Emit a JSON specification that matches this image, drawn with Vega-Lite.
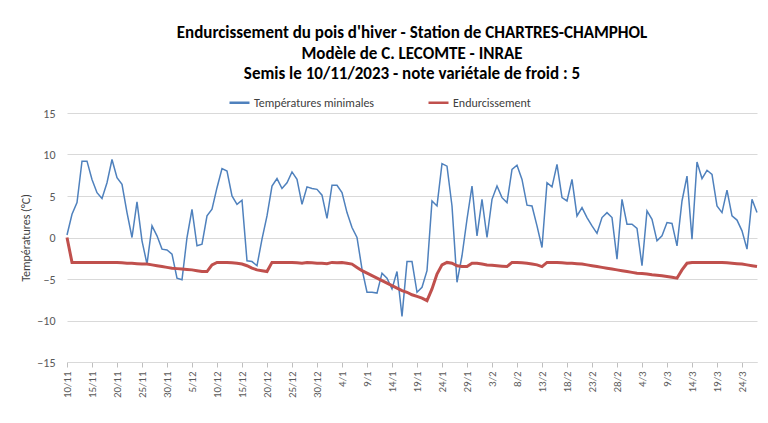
{
  "$schema": "https://vega.github.io/schema/vega-lite/v6.json",
  "width": 690,
  "height": 249,
  "autosize": {"type": "none"},
  "padding": {"left": 67, "top": 113, "right": 11, "bottom": 61},
  "background": "white",
  "config": {
    "font": "Carlito, Lato, sans-serif",
    "view": {"stroke": null}
  },
  "title": {
    "text": ["Endurcissement du pois d'hiver - Station de CHARTRES-CHAMPHOL", "Modèle de C. LECOMTE - INRAE", "Semis le 10/11/2023  - note variétale de froid : 5"],
    "fontSize": 17,
    "fontWeight": "bold",
    "color": "#000000",
    "lineHeight": 20.5,
    "anchor": "middle",
    "frame": "group",
    "offset": 11,
    "dy": 3
  },
  "data": {
    "values": [
      {"date": "10/11", "tmin": 0.3, "endu": 0},
      {"date": "11/11", "tmin": 2.8, "endu": -3.0},
      {"date": "12/11", "tmin": 4.2, "endu": -3.0},
      {"date": "13/11", "tmin": 9.2, "endu": -3.0},
      {"date": "14/11", "tmin": 9.2, "endu": -3.0},
      {"date": "15/11", "tmin": 7.0, "endu": -3.0},
      {"date": "16/11", "tmin": 5.4, "endu": -3.0},
      {"date": "17/11", "tmin": 4.7, "endu": -3.0},
      {"date": "18/11", "tmin": 6.6, "endu": -3.0},
      {"date": "19/11", "tmin": 9.4, "endu": -3.0},
      {"date": "20/11", "tmin": 7.2, "endu": -3.0},
      {"date": "21/11", "tmin": 6.4, "endu": -3.05},
      {"date": "22/11", "tmin": 3.0, "endu": -3.1},
      {"date": "23/11", "tmin": 0.0, "endu": -3.1},
      {"date": "24/11", "tmin": 4.3, "endu": -3.15},
      {"date": "25/11", "tmin": -0.4, "endu": -3.2},
      {"date": "26/11", "tmin": -3.2, "endu": -3.2},
      {"date": "27/11", "tmin": 1.4, "endu": -3.3},
      {"date": "28/11", "tmin": 0.2, "endu": -3.4},
      {"date": "29/11", "tmin": -1.4, "endu": -3.5},
      {"date": "30/11", "tmin": -1.5, "endu": -3.6},
      {"date": "1/12", "tmin": -2.0, "endu": -3.7},
      {"date": "2/12", "tmin": -4.9, "endu": -3.75},
      {"date": "3/12", "tmin": -5.1, "endu": -3.8},
      {"date": "4/12", "tmin": 0.0, "endu": -3.85},
      {"date": "5/12", "tmin": 3.4, "endu": -3.9},
      {"date": "6/12", "tmin": -1.0, "endu": -4.0},
      {"date": "7/12", "tmin": -0.8, "endu": -4.1},
      {"date": "8/12", "tmin": 2.6, "endu": -4.1},
      {"date": "9/12", "tmin": 3.4, "endu": -3.3},
      {"date": "10/12", "tmin": 6.0, "endu": -3.0},
      {"date": "11/12", "tmin": 8.3, "endu": -3.0},
      {"date": "12/12", "tmin": 8.0, "endu": -3.0},
      {"date": "13/12", "tmin": 5.0, "endu": -3.05},
      {"date": "14/12", "tmin": 4.0, "endu": -3.1},
      {"date": "15/12", "tmin": 4.5, "endu": -3.2},
      {"date": "16/12", "tmin": -2.8, "endu": -3.4},
      {"date": "17/12", "tmin": -2.9, "endu": -3.7},
      {"date": "18/12", "tmin": -3.4, "endu": -3.9},
      {"date": "19/12", "tmin": -0.2, "endu": -4.0},
      {"date": "20/12", "tmin": 2.6, "endu": -4.1},
      {"date": "21/12", "tmin": 6.2, "endu": -3.0},
      {"date": "22/12", "tmin": 7.1, "endu": -3.0},
      {"date": "23/12", "tmin": 5.9, "endu": -3.0},
      {"date": "24/12", "tmin": 6.6, "endu": -3.0},
      {"date": "25/12", "tmin": 7.9, "endu": -3.0},
      {"date": "26/12", "tmin": 7.0, "endu": -3.05},
      {"date": "27/12", "tmin": 4.0, "endu": -3.1},
      {"date": "28/12", "tmin": 6.1, "endu": -3.0},
      {"date": "29/12", "tmin": 5.9, "endu": -3.05},
      {"date": "30/12", "tmin": 5.8, "endu": -3.1},
      {"date": "31/12", "tmin": 5.1, "endu": -3.1},
      {"date": "1/1", "tmin": 2.3, "endu": -3.15},
      {"date": "2/1", "tmin": 6.3, "endu": -3.0},
      {"date": "3/1", "tmin": 6.3, "endu": -3.05},
      {"date": "4/1", "tmin": 5.4, "endu": -3.0},
      {"date": "5/1", "tmin": 3.0, "endu": -3.1},
      {"date": "6/1", "tmin": 1.2, "endu": -3.2},
      {"date": "7/1", "tmin": 0.0, "endu": -3.6},
      {"date": "8/1", "tmin": -3.8, "endu": -4.0},
      {"date": "9/1", "tmin": -6.6, "endu": -4.3},
      {"date": "10/1", "tmin": -6.6, "endu": -4.6},
      {"date": "11/1", "tmin": -6.7, "endu": -4.9},
      {"date": "12/1", "tmin": -4.3, "endu": -5.2},
      {"date": "13/1", "tmin": -4.9, "endu": -5.5},
      {"date": "14/1", "tmin": -6.2, "endu": -5.8},
      {"date": "15/1", "tmin": -4.1, "endu": -6.1},
      {"date": "16/1", "tmin": -9.5, "endu": -6.4},
      {"date": "17/1", "tmin": -2.9, "endu": -6.6},
      {"date": "18/1", "tmin": -2.9, "endu": -6.9},
      {"date": "19/1", "tmin": -6.6, "endu": -7.1},
      {"date": "20/1", "tmin": -6.0, "endu": -7.3},
      {"date": "21/1", "tmin": -4.0, "endu": -7.6},
      {"date": "22/1", "tmin": 4.4, "endu": -6.2},
      {"date": "23/1", "tmin": 3.8, "endu": -4.4},
      {"date": "24/1", "tmin": 8.9, "endu": -3.3},
      {"date": "25/1", "tmin": 8.6, "endu": -3.0},
      {"date": "26/1", "tmin": 3.8, "endu": -3.1},
      {"date": "27/1", "tmin": -5.4, "endu": -3.4},
      {"date": "28/1", "tmin": -2.2, "endu": -3.5},
      {"date": "29/1", "tmin": 2.2, "endu": -3.5},
      {"date": "30/1", "tmin": 6.2, "endu": -3.1},
      {"date": "31/1", "tmin": 0.2, "endu": -3.1},
      {"date": "1/2", "tmin": 4.6, "endu": -3.2},
      {"date": "2/2", "tmin": 0.0, "endu": -3.3},
      {"date": "3/2", "tmin": 4.6, "endu": -3.35},
      {"date": "4/2", "tmin": 6.2, "endu": -3.4},
      {"date": "5/2", "tmin": 4.8, "endu": -3.45},
      {"date": "6/2", "tmin": 4.2, "endu": -3.5},
      {"date": "7/2", "tmin": 8.2, "endu": -3.0},
      {"date": "8/2", "tmin": 8.7, "endu": -3.0},
      {"date": "9/2", "tmin": 7.0, "endu": -3.05},
      {"date": "10/2", "tmin": 3.9, "endu": -3.1},
      {"date": "11/2", "tmin": 3.8, "endu": -3.2},
      {"date": "12/2", "tmin": 1.4, "endu": -3.3},
      {"date": "13/2", "tmin": -1.2, "endu": -3.5},
      {"date": "14/2", "tmin": 6.6, "endu": -3.0},
      {"date": "15/2", "tmin": 6.1, "endu": -3.0},
      {"date": "16/2", "tmin": 8.8, "endu": -3.0},
      {"date": "17/2", "tmin": 4.8, "endu": -3.05},
      {"date": "18/2", "tmin": 4.4, "endu": -3.1},
      {"date": "19/2", "tmin": 7.0, "endu": -3.1},
      {"date": "20/2", "tmin": 2.6, "endu": -3.15},
      {"date": "21/2", "tmin": 3.6, "endu": -3.2},
      {"date": "22/2", "tmin": 2.4, "endu": -3.3},
      {"date": "23/2", "tmin": 1.4, "endu": -3.4},
      {"date": "24/2", "tmin": 0.5, "endu": -3.5},
      {"date": "25/2", "tmin": 2.4, "endu": -3.6},
      {"date": "26/2", "tmin": 3.0, "endu": -3.7},
      {"date": "27/2", "tmin": 2.4, "endu": -3.8},
      {"date": "28/2", "tmin": -2.6, "endu": -3.9},
      {"date": "29/2", "tmin": 4.6, "endu": -4.0},
      {"date": "1/3", "tmin": 1.6, "endu": -4.1},
      {"date": "2/3", "tmin": 1.6, "endu": -4.2},
      {"date": "3/3", "tmin": 1.1, "endu": -4.3},
      {"date": "4/3", "tmin": -3.4, "endu": -4.35},
      {"date": "5/3", "tmin": 3.2, "endu": -4.4},
      {"date": "6/3", "tmin": 2.2, "endu": -4.5},
      {"date": "7/3", "tmin": -0.4, "endu": -4.55},
      {"date": "8/3", "tmin": 0.2, "endu": -4.6},
      {"date": "9/3", "tmin": 1.8, "endu": -4.7},
      {"date": "10/3", "tmin": 1.7, "endu": -4.8},
      {"date": "11/3", "tmin": -1.0, "endu": -4.9},
      {"date": "12/3", "tmin": 4.4, "endu": -3.9},
      {"date": "13/3", "tmin": 7.4, "endu": -3.1},
      {"date": "14/3", "tmin": -0.2, "endu": -3.0},
      {"date": "15/3", "tmin": 9.1, "endu": -3.0},
      {"date": "16/3", "tmin": 7.1, "endu": -3.0},
      {"date": "17/3", "tmin": 8.1, "endu": -3.0},
      {"date": "18/3", "tmin": 7.6, "endu": -3.0},
      {"date": "19/3", "tmin": 3.8, "endu": -3.0},
      {"date": "20/3", "tmin": 3.0, "endu": -3.0},
      {"date": "21/3", "tmin": 5.7, "endu": -3.05},
      {"date": "22/3", "tmin": 2.6, "endu": -3.1},
      {"date": "23/3", "tmin": 2.1, "endu": -3.15},
      {"date": "24/3", "tmin": 0.8, "endu": -3.2},
      {"date": "25/3", "tmin": -1.4, "endu": -3.3},
      {"date": "26/3", "tmin": 4.6, "endu": -3.4},
      {"date": "27/3", "tmin": 3.0, "endu": -3.5}
    ]
  },
  "encoding": {
    "x": {
      "field": "date",
      "type": "ordinal",
      "sort": null,
      "scale": {"type": "point", "padding": 0},
      "axis": {
        "title": null,
        "values": ["10/11", "15/11", "20/11", "25/11", "30/11", "5/12", "10/12", "15/12", "20/12", "25/12", "30/12", "4/1", "9/1", "14/1", "19/1", "24/1", "29/1", "3/2", "8/2", "13/2", "18/2", "23/2", "28/2", "4/3", "9/3", "14/3", "19/3", "24/3"],
        "labelAngle": 270,
        "labelAlign": "right",
        "labelBaseline": "middle",
        "labelFontSize": 11,
        "labelColor": "#595959",
        "labelPadding": 4,
        "tickColor": "#bfbfbf",
        "tickSize": 5,
        "domainColor": "#d9d9d9",
        "grid": false
      }
    }
  },
  "layer": [
    {
      "mark": {"type": "line", "strokeWidth": 1.5, "interpolate": "linear"},
      "encoding": {
        "y": {
          "field": "tmin",
          "type": "quantitative",
          "scale": {"domain": [-15, 15], "nice": false, "zero": false},
          "axis": {
            "title": "Températures (°C)",
            "titleFontSize": 12,
            "titleFontWeight": "normal",
            "titleColor": "#404040",
            "titlePadding": 4,
            "values": [-15, -10, -5, 0, 5, 10, 15],
            "labelFontSize": 12,
            "labelColor": "#595959",
            "labelPadding": 12,
            "ticks": false,
            "domain": false,
            "gridColor": "#d9d9d9",
            "gridWidth": 1
          }
        },
        "color": {
          "datum": "Températures minimales",
          "type": "nominal",
          "scale": {"domain": ["Températures minimales", "Endurcissement"], "range": ["#4F81BD", "#C0504D"]},
          "legend": {
            "title": null,
            "orient": "none",
            "legendX": 161,
            "legendY": -22,
            "direction": "horizontal",
            "symbolType": "stroke",
            "symbolSize": 400,
            "symbolStrokeWidth": 2.5,
            "labelFontSize": 12,
            "labelColor": "#404040",
            "labelOffset": 3,
            "columnPadding": 48
          }
        }
      }
    },
    {
      "mark": {"type": "line", "strokeWidth": 3, "interpolate": "linear"},
      "encoding": {
        "y": {"field": "endu", "type": "quantitative"},
        "color": {"datum": "Endurcissement", "type": "nominal"}
      }
    }
  ]
}
